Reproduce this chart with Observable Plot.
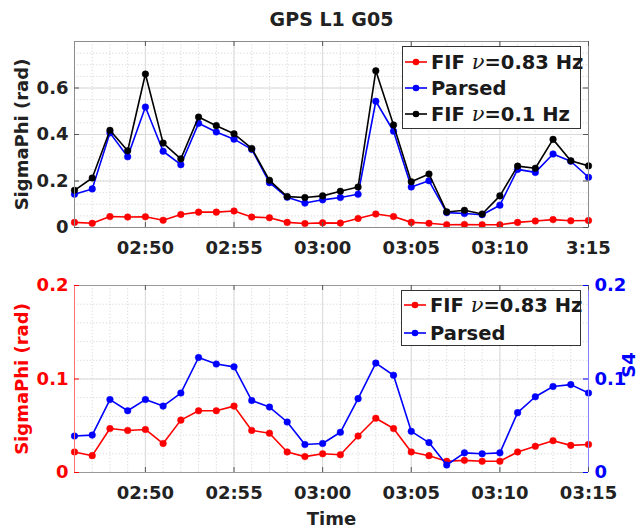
<!DOCTYPE html>
<html><head><meta charset="utf-8">
<script src="https://cdn.jsdelivr.net/npm/d3@7"></script>
<script src="https://cdn.jsdelivr.net/npm/@observablehq/plot@0.6"></script>
<style>
body{margin:0;background:#fff;}
#wrap{position:relative;width:641px;height:528px;overflow:hidden;font-family:"DejaVu Sans",sans-serif;}
#wrap svg{position:absolute;left:0;}
.legend{position:absolute;background:#fff;border:1px solid #333;box-sizing:border-box;}
.item{position:absolute;left:0;height:24px;display:flex;align-items:center;font-weight:bold;font-size:19.5px;color:#1a1a1a;white-space:nowrap;}
.item svg{position:static!important;margin-left:2px;margin-right:3px;}
.nu{font-family:"DejaVu Serif","Liberation Serif",serif;font-style:italic;font-weight:normal;font-size:21px;}
</style></head>
<body><div id="wrap"></div>
<script>
// ---- data ----
const times = ["02:46","02:47","02:48","02:49","02:50","02:51","02:52","02:53","02:54","02:55",
  "02:56","02:57","02:58","02:59","03:00","03:01","03:02","03:03","03:04","03:05",
  "03:06","03:07","03:08","03:09","03:10","03:11","03:12","03:13","03:14","03:15"];
const sigmaFif083 = [0.022,0.018,0.047,0.045,0.046,0.031,0.056,0.066,0.066,0.071,
  0.045,0.042,0.022,0.017,0.020,0.019,0.039,0.058,0.047,0.022,
  0.018,0.012,0.013,0.012,0.012,0.022,0.028,0.034,0.029,0.030];
const sigmaParsed = [0.143,0.166,0.407,0.304,0.518,0.328,0.270,0.448,0.411,0.380,
  0.336,0.193,0.130,0.105,0.119,0.129,0.143,0.543,0.414,0.174,
  0.201,0.064,0.060,0.055,0.096,0.250,0.237,0.316,0.285,0.216];
const sigmaFif01 = [0.160,0.213,0.418,0.330,0.660,0.363,0.295,0.475,0.438,0.403,
  0.340,0.203,0.133,0.129,0.136,0.156,0.174,0.674,0.441,0.197,
  0.230,0.067,0.074,0.058,0.136,0.264,0.255,0.379,0.287,0.265];
const s4Parsed = [0.039,0.040,0.078,0.066,0.078,0.071,0.085,0.123,0.116,0.113,
  0.077,0.070,0.054,0.030,0.031,0.043,0.079,0.117,0.104,0.044,
  0.032,0.008,0.021,0.020,0.021,0.064,0.081,0.092,0.094,0.085];
const xTickTimes = ["02:50","02:55","03:00","03:05","03:10","03:15"];
const topXTickLabels = ["02:50","02:55","03:00","03:05","03:10","3:15"];
const botXTickLabels = ["02:50","02:55","03:00","03:05","03:10","03:15"];
const topYTicks = [0,0.2,0.4,0.6];
const botYTicks = [0,0.1,0.2];
const titleText = "GPS L1 G05";
const legendTop = ["FIF ν=0.83 Hz","Parsed","FIF ν=0.1 Hz"];
const legendBot = ["FIF ν=0.83 Hz","Parsed"];

// ---- build ----
const toDate = s => new Date(`2020-01-01T${s}:00Z`);
const dates = times.map(toDate);
const xTickDates = xTickTimes.map(toDate);
const rows = times.map((t,i)=>({t: dates[i], fif083: sigmaFif083[i], parsed: sigmaParsed[i], fif01: sigmaFif01[i], s4: s4Parsed[i]}));
const xDomain = [dates[0], dates[dates.length-1]];
const RED="#ff0000", BLUE="#0000ff", BLACK="#000000", TXT="#222222";
const W=641, ML=74, MR=53, innerW=W-ML-MR;
const FONT={fontFamily:"DejaVu Sans", fontWeight:"bold"};
const wrap=document.getElementById("wrap");

function grids(innerH, yMinor, yMajor){
  return [
    Plot.gridX(dates,{stroke:"#cfcfcf",strokeOpacity:1,strokeWidth:0.8,strokeDasharray:"1.2,2"}),
    Plot.gridY(yMinor,{stroke:"#cfcfcf",strokeOpacity:1,strokeWidth:0.8,strokeDasharray:"1.2,2"}),
    Plot.gridX(xTickDates,{stroke:"#dadada",strokeOpacity:1,strokeWidth:1}),
    Plot.gridY(yMajor,{stroke:"#dadada",strokeOpacity:1,strokeWidth:1})
  ];
}
function series(key,color){
  return [
    Plot.line(rows,{x:"t",y:key,stroke:color,strokeWidth:1.6}),
    Plot.dot(rows,{x:"t",y:key,fill:color,stroke:color,strokeWidth:0.5,r:3.3})
  ];
}
const xLabelMap = labels => new Map(xTickDates.map((d,i)=>[+d,labels[i]]));

// top panel
{
  const H=262, MT=41, MB=35, innerH=H-MT-MB;
  const lbl=xLabelMap(topXTickLabels);
  const svg=Plot.plot({
    width:W,height:H,marginLeft:ML,marginRight:MR,marginTop:MT,marginBottom:MB,
    style:{...FONT,fontSize:"18px",color:TXT,background:"transparent",overflow:"visible"},
    x:{type:"utc",domain:xDomain,axis:null},
    y:{domain:[0,0.8],axis:null},
    marks:[
      ...grids(innerH,d3.range(0,0.8001,0.05),topYTicks),
      ...series("fif083",RED),
      ...series("parsed",BLUE),
      ...series("fif01",BLACK),
      Plot.frame({stroke:"#8c8c8c",strokeWidth:1}),
      Plot.ruleX(xTickDates,{stroke:"#555",insetTop:innerH-5}),
      Plot.ruleX(xTickDates,{stroke:"#555",insetBottom:innerH-5}),
      Plot.ruleY(topYTicks,{stroke:"#555",insetRight:innerW-5}),
      Plot.ruleY(topYTicks,{stroke:"#555",insetLeft:innerW-5}),
      Plot.axisX(xTickDates,{anchor:"bottom",tickSize:0,tickPadding:14,tickFormat:d=>lbl.get(+d),label:null,fontSize:18,fontWeight:"bold",color:TXT}),
      Plot.axisY(topYTicks,{anchor:"left",tickSize:0,tickPadding:6,tickFormat:d=>String(d),label:null,fontSize:18,fontWeight:"bold",color:TXT}),
      Plot.text(["SigmaPhi (rad)"],{frameAnchor:"left",rotate:-90,dx:-52,textAnchor:"middle",lineAnchor:"middle",fontSize:18,fontWeight:"bold",fill:TXT}),
      Plot.text([titleText],{frameAnchor:"top",dy:-22,textAnchor:"middle",lineAnchor:"middle",fontSize:19,fontWeight:"bold",fill:TXT})
    ]
  });
  svg.style.top="0px";
  wrap.appendChild(svg);
}
// bottom panel
{
  const H=266, MT=23, MB=56, innerH=H-MT-MB;
  const lbl=xLabelMap(botXTickLabels);
  const svg=Plot.plot({
    width:W,height:H,marginLeft:ML,marginRight:MR,marginTop:MT,marginBottom:MB,
    style:{...FONT,fontSize:"18px",color:TXT,background:"transparent",overflow:"visible"},
    x:{type:"utc",domain:xDomain,axis:null},
    y:{domain:[0,0.2],axis:null},
    marks:[
      ...grids(innerH,d3.range(0,0.2001,0.02),botYTicks),
      ...series("fif083",RED),
      ...series("s4",BLUE),
      Plot.ruleY([0.2],{stroke:"#999"}),
      Plot.ruleY([0],{stroke:"#999"}),
      Plot.ruleX([xDomain[0]],{stroke:"#ff7070"}),
      Plot.ruleX([xDomain[1]],{stroke:"#8080ff"}),
      Plot.ruleX(xTickDates,{stroke:"#555",insetTop:innerH-5}),
      Plot.ruleX(xTickDates,{stroke:"#555",insetBottom:innerH-5}),
      Plot.ruleY(botYTicks,{stroke:RED,insetRight:innerW-5}),
      Plot.ruleY(botYTicks,{stroke:BLUE,insetLeft:innerW-5}),
      Plot.axisX(xTickDates,{anchor:"bottom",tickSize:0,tickPadding:14,tickFormat:d=>lbl.get(+d),label:null,fontSize:18,fontWeight:"bold",color:TXT}),
      Plot.axisY(botYTicks,{anchor:"left",tickSize:0,tickPadding:6,tickFormat:d=>String(d),label:null,fontSize:18,fontWeight:"bold",color:RED}),
      Plot.axisY(botYTicks,{anchor:"right",tickSize:0,tickPadding:6,tickFormat:d=>String(d),label:null,fontSize:18,fontWeight:"bold",color:BLUE}),
      Plot.text(["SigmaPhi (rad)"],{frameAnchor:"left",rotate:-90,dx:-52,textAnchor:"middle",lineAnchor:"middle",fontSize:18,fontWeight:"bold",fill:RED}),
      Plot.text(["S4"],{frameAnchor:"right",rotate:-90,dx:41,dy:-14,textAnchor:"middle",lineAnchor:"middle",fontSize:18,fontWeight:"bold",fill:BLUE}),
      Plot.text(["Time"],{frameAnchor:"bottom",dy:47,textAnchor:"middle",lineAnchor:"middle",fontSize:18,fontWeight:"bold",fill:TXT})
    ]
  });
  svg.style.top="262px";
  wrap.appendChild(svg);
}
// legends
function legend(left,top,w,h,labels,colors,ys){
  const box=document.createElement("div");
  box.className="legend";
  Object.assign(box.style,{left:left+"px",top:top+"px",width:w+"px",height:h+"px"});
  labels.forEach((lab,i)=>{
    const it=document.createElement("div");
    it.className="item";
    it.style.top=(ys[i]-12)+"px";
    const c=colors[i];
    const html=lab.replace("ν",'<span class="nu">ν</span>');
    it.innerHTML=`<svg width="23" height="12"><line x1="0" x2="22" y1="6" y2="6" stroke="${c}" stroke-width="1.6"/><circle cx="11" cy="6" r="3.3" fill="${c}"/></svg><span>${html}</span>`;
    box.appendChild(it);
  });
  wrap.appendChild(box);
}
legend(402,46,179,83,legendTop,[RED,BLUE,BLACK],[15,41,67]);
legend(401,290,180,56,legendBot,[RED,BLUE],[14,42]);
</script>
</body></html>
